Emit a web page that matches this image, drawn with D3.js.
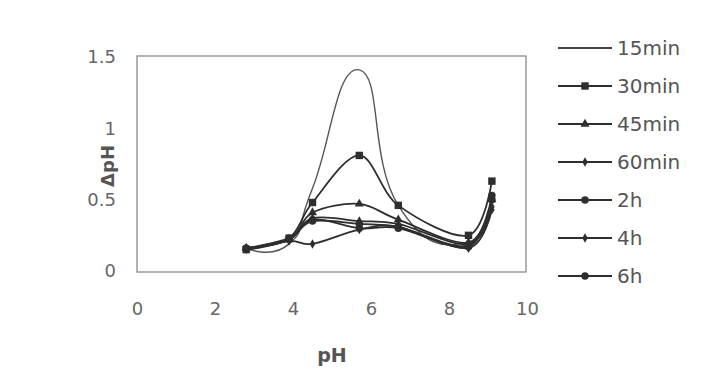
<!DOCTYPE html>
<html>
<head>
<meta charset="utf-8">
<script src="https://cdn.jsdelivr.net/npm/d3@7"></script>
<style>
  body { margin: 0; background: #fff; }
  svg { display: block; font-family: "DejaVu Sans", sans-serif; }
</style>
</head>
<body>
<div id="chart"></div>
<script>
// pH values where samples were taken
const phValues = [2.8, 3.9, 4.5, 5.7, 6.7, 8.5, 9.1];

// series values (delta pH)
const series15 = [0.16, 0.19, 0.58, 1.41, 0.46, 0.20, 0.55];
const series30 = [0.15, 0.23, 0.48, 0.81, 0.46, 0.25, 0.63];
const series45 = [0.16, 0.22, 0.41, 0.47, 0.36, 0.20, 0.50];
const series60 = [0.16, 0.22, 0.37, 0.35, 0.33, 0.19, 0.45];
const series2h = [0.16, 0.23, 0.35, 0.33, 0.31, 0.18, 0.53];
const series4h = [0.15, 0.21, 0.19, 0.29, 0.31, 0.16, 0.43];
const series6h = [0.16, 0.22, 0.36, 0.30, 0.30, 0.17, 0.50];

const seriesNames = ["15min", "30min", "45min", "60min", "2h", "4h", "6h"];
const seriesValues = [series15, series30, series45, series60, series2h, series4h, series6h];
const markerTypes = ["none", "square", "triangle", "diamond", "circle", "diamond", "circle"];

const xTicks = [0, 2, 4, 6, 8, 10];
const yTicks = [0, 0.5, 1, 1.5];

const width = 702;
const height = 391;
const plot = { left: 137, right: 526, top: 56, bottom: 272 };

const svg = d3.select("#chart")
  .append("svg")
  .attr("width", width)
  .attr("height", height);

const xScale = d3.scaleLinear().domain([0, 10]).range([137, 527]);
const yScale = d3.scaleLinear().domain([0, 1.5]).range([271, 57]);

// plot frame
svg.append("rect")
  .attr("x", plot.left)
  .attr("y", plot.top)
  .attr("width", plot.right - plot.left)
  .attr("height", plot.bottom - plot.top)
  .attr("fill", "none")
  .attr("stroke", "#8a8a8a")
  .attr("stroke-width", 1.3);

// axes (ticks hidden, labels only)
const xAxis = svg.append("g")
  .attr("transform", `translate(0, ${plot.bottom})`)
  .call(d3.axisBottom(xScale).tickValues(xTicks).tickSize(0).tickPadding(30).tickFormat(d3.format("d")));
const yAxis = svg.append("g")
  .attr("transform", `translate(${plot.left}, 0)`)
  .call(d3.axisLeft(yScale).tickValues(yTicks).tickSize(0).tickPadding(21).tickFormat(d3.format("~g")));

[xAxis, yAxis].forEach(ax => {
  ax.select(".domain").remove();
  ax.selectAll("text")
    .attr("fill", "#666")
    .style("font-family", "DejaVu Sans, sans-serif")
    .style("font-size", "18px");
});

// axis titles
svg.append("text")
  .attr("x", 332)
  .attr("y", 362)
  .attr("text-anchor", "middle")
  .attr("fill", "#555")
  .style("font-size", "19px")
  .style("font-weight", "bold")
  .text("pH");

svg.append("text")
  .attr("transform", "translate(114, 166) rotate(-90)")
  .attr("text-anchor", "middle")
  .attr("fill", "#555")
  .style("font-size", "18px")
  .style("font-weight", "bold")
  .text("ΔpH");

const line = d3.line()
  .x((d, i) => xScale(phValues[i]))
  .y(d => yScale(d))
  .curve(d3.curveCatmullRom.alpha(0));

// the 15min curve overshoots more in the original smoothing
const line15 = d3.line()
  .x((d, i) => xScale(phValues[i]))
  .y(d => yScale(d))
  .curve(d3.curveCardinal.tension(-0.6));

const symbolFor = {
  square: d3.symbol().type(d3.symbolSquare).size(55),
  triangle: d3.symbol().type(d3.symbolTriangle).size(36),
  diamond: d3.symbol().type(d3.symbolDiamond).size(26),
  circle: d3.symbol().type(d3.symbolCircle).size(44)
};

const lineColor = "#2e2e2e";

seriesValues.forEach((vals, k) => {
  const g = svg.append("g");
  g.append("path")
    .datum(vals)
    .attr("d", k === 0 ? line15 : line)
    .attr("fill", "none")
    .attr("stroke", k === 0 ? "#555" : lineColor)
    .attr("stroke-width", k === 0 ? 1.4 : 1.8);

  const type = markerTypes[k];
  if (type !== "none") {
    g.selectAll("path.mark")
      .data(vals)
      .join("path")
      .attr("class", "mark")
      .attr("d", symbolFor[type])
      .attr("transform", (d, i) => `translate(${xScale(phValues[i])}, ${yScale(d)})`)
      .attr("fill", lineColor);
  }
});

// legend
const legend = svg.append("g").attr("transform", "translate(558, 48)");
seriesNames.forEach((name, k) => {
  const row = legend.append("g").attr("transform", `translate(0, ${k * 38})`);
  row.append("line")
    .attr("x1", 0).attr("x2", 54)
    .attr("y1", 0).attr("y2", 0)
    .attr("stroke", k === 0 ? "#444" : lineColor)
    .attr("stroke-width", 1.8);
  const type = markerTypes[k];
  if (type !== "none") {
    row.append("path")
      .attr("d", symbolFor[type])
      .attr("transform", "translate(27, 0)")
      .attr("fill", lineColor);
  }
  row.append("text")
    .attr("x", 59)
    .attr("y", 0)
    .attr("dy", "0.36em")
    .attr("fill", "#555")
    .style("font-size", "20px")
    .text(name);
});
</script>
</body>
</html>
